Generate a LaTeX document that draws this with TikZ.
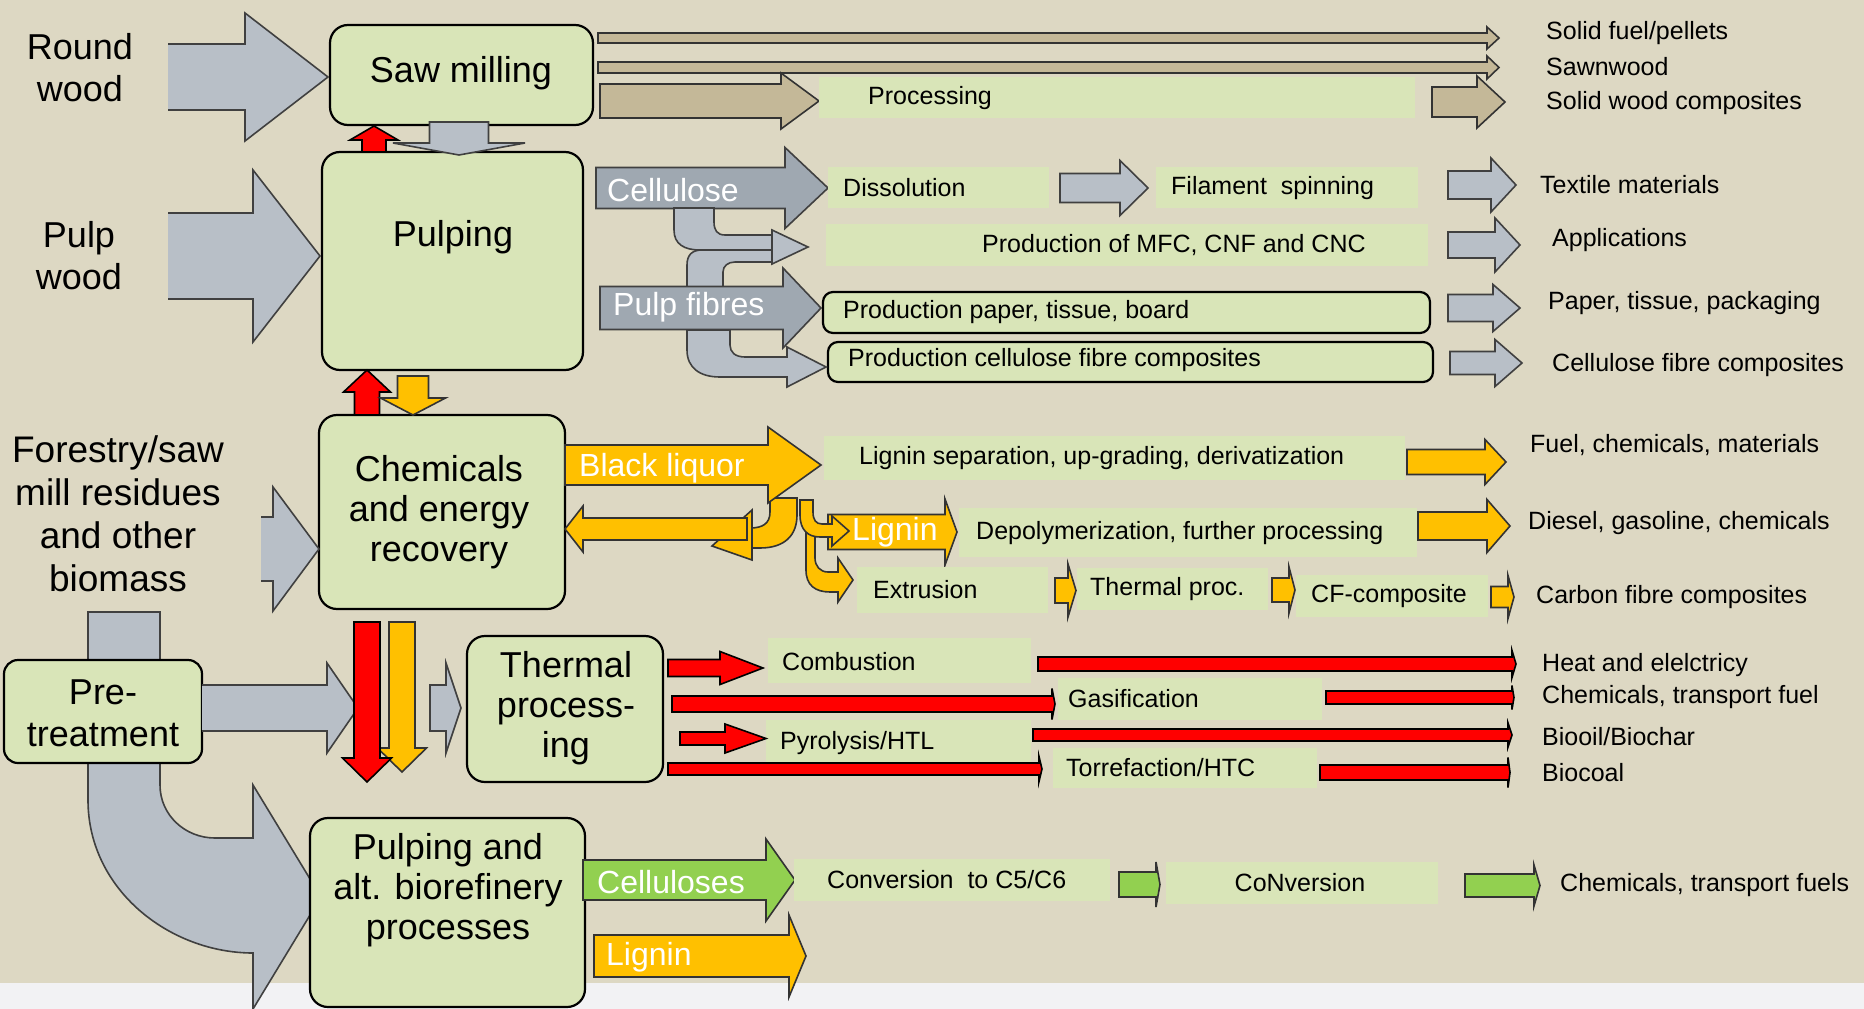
\documentclass[tikz,border=0pt]{standalone}
\usepackage{fontspec}
\setmainfont{Liberation Sans}
\definecolor{bg}{HTML}{DDD8C3}
\definecolor{lg}{HTML}{D9E5B8}
\definecolor{gb}{HTML}{B8BFC7}
\definecolor{gd}{HTML}{9FA8B1}
\definecolor{tanc}{HTML}{C4B898}
\definecolor{yel}{HTML}{FFC000}
\definecolor{grn}{HTML}{92D050}
\definecolor{strip}{HTML}{F2F2F4}
\newcommand{\hblk}[7][]{\path[#1] (#2,{#5-#6}) -- (#3,{#5-#6}) -- (#3,{#5-#7}) -- (#4,#5) -- (#3,{#5+#7}) -- (#3,{#5+#6}) -- (#2,{#5+#6}) -- cycle;}
\newcommand{\hblkopen}[7][]{\fill[#1,draw=none] (#2,{#5-#6}) -- (#3,{#5-#6}) -- (#3,{#5-#7}) -- (#4,#5) -- (#3,{#5+#7}) -- (#3,{#5+#6}) -- (#2,{#5+#6}) -- cycle;
 \draw[#1,fill=none] (#2,{#5-#6}) -- (#3,{#5-#6}) -- (#3,{#5-#7}) -- (#4,#5) -- (#3,{#5+#7}) -- (#3,{#5+#6}) -- (#2,{#5+#6});}
\newcommand{\vblk}[7][]{\path[#1] ({#5-#6},#2) -- ({#5-#6},#3) -- ({#5-#7},#3) -- (#5,#4) -- ({#5+#7},#3) -- ({#5+#6},#3) -- ({#5+#6},#2) -- cycle;}
\begin{document}
\begin{tikzpicture}[x=1pt,y=-1pt,
 box/.style={draw=black, line width=2.2pt, fill=lg, rounded corners=18pt},
 big/.style={font=\fontsize{36}{42}\selectfont, align=center, inner sep=0pt},
 sm/.style={font=\fontsize{25}{30}\selectfont, anchor=west, inner sep=0pt},
 wl/.style={font=\fontsize{32}{36}\selectfont, text=white, anchor=west, inner sep=0pt},
 ga/.style={fill=gb, draw=black!75, line width=1.6pt, line join=miter},
 gda/.style={fill=gd, draw=black!75, line width=1.6pt},
 ya/.style={fill=yel, draw=black!80, line width=1.6pt},
 ra/.style={fill=red, draw=black, line width=1.6pt},
 ta/.style={fill=tanc, draw=black!80, line width=1.6pt},
 gra/.style={fill=grn, draw=black!80, line width=1.6pt}]
\useasboundingbox (0,0) rectangle (1864,1009);
\fill[bg] (0,0) rectangle (1864,983);
\fill[strip] (0,983) rectangle (1864,1009);

% left texts
\node[big] (round) at (80,68) {Round\\wood};
\node[big] (pulpw) at (79,256) {Pulp\\wood};
\node[big, font=\fontsize{37}{43}\selectfont] (forest) at (118,514) {Forestry/saw\\mill residues\\and other\\biomass};

% vertical bar and big curved arrow
\path[ga] (88,612) -- (88,800) .. controls (88,890) and (170,953) .. (253,953) -- (253,1009) -- (321,897) -- (253,785) -- (253,838) -- (215,838) .. controls (185,838) and (160,815) .. (160,785) -- (160,612) -- cycle;

% boxes
\node[box, minimum width=263pt, minimum height=100pt] (saw) at (461.5,75) {};
\node[big] (sawt) at (461,73) {Saw milling};
\node[box, minimum width=261pt, minimum height=218pt] (pulp) at (452.5,261) {};
\node[big] (pulpt) at (453,237) {Pulping};
\node[box, minimum width=246pt, minimum height=194pt] (chem) at (442,512) {};
\node[big, font=\fontsize{36}{40}\selectfont] (chemt) at (439,512) {Chemicals\\and energy\\recovery};
\node[box, rounded corners=14pt, minimum width=198pt, minimum height=103pt] (pre) at (103,711.5) {};
\node[big] (pret) at (103,713) {Pre-\\treatment};
\node[box, minimum width=196pt, minimum height=146pt] (therm) at (565,709) {};
\node[big, font=\fontsize{36}{40}\selectfont] (thermt) at (566,708) {Thermal\\process-\\ing};
\node[box, minimum width=275pt, minimum height=189pt] (alt) at (447.5,912.5) {};
\node[big, font=\fontsize{36}{40}\selectfont] (altt) at (448,890) {Pulping and\\alt. biorefinery\\processes};

% input arrows
\hblkopen[ga]{168}{245}{328}{77}{33}{64}
\hblkopen[ga]{168}{253}{320}{256}{43}{86}
\hblkopen[ga]{261}{273}{319}{549}{32}{62}
\hblkopen[ga]{202}{327}{358}{708}{23}{45}
\hblk[ga]{430}{446}{461}{708}{23}{45}

% vertical connectors
\vblk[ra]{152}{140}{126}{374}{12}{24}
\vblk[ga]{122}{143}{155}{459}{29.5}{66}
\vblk[ra]{415}{392}{370}{367}{12.5}{23.5}
\vblk[ya]{376}{398}{415}{413}{15.5}{32.5}
\vblk[ya]{622}{748}{772}{402}{13}{24.5}
\vblk[ra]{622}{758}{782}{367}{13}{24.5}

% saw milling outputs
\hblk[ta]{598}{1487}{1499}{38}{5}{11}
\hblk[ta]{598}{1487}{1499}{67.5}{5.5}{11.5}
\hblk[ta]{600}{781}{819}{101}{17}{28}
\fill[lg] (819,77) rectangle (1415,118);
\node[sm] (proc) at (868,98) {Processing};
\hblk[ta]{1432}{1477}{1505}{102}{15}{26}
\node[sm] (sfp) at (1546,33) {Solid fuel/pellets};
\node[sm] (sawn) at (1546,67) {Sawnwood};
\node[sm] (swc) at (1546,103) {Solid wood composites};

% cellulose
\hblk[gda]{596}{785}{828}{188}{20.5}{40.5}
\node[wl] (cell) at (607,190) {Cellulose};
\fill[lg] (828,167) rectangle (1049,208);
\node[sm] (diss) at (843,188) {Dissolution};
\hblk[ga]{1060}{1120}{1148}{188}{14.5}{27.5}
\fill[lg] (1156,167) rectangle (1418,208);
\node[sm] (fil) at (1171,188) {Filament\ \ spinning};
\hblk[ga]{1448}{1491}{1516}{185}{14}{27}
\node[sm] (tex) at (1540,185) {Textile materials};

\fill[lg] (826,224) rectangle (1428,266);
\node[sm] (mfc) at (982,245) {Production of MFC, CNF and CNC};
\hblk[ga]{1448}{1495}{1520}{245}{13}{27}
\node[sm] (app) at (1552,240) {Applications};

% curved gray to MFC
\path[ga] (687,290) -- (687,265) .. controls (687,255) and (692,250) .. (702,250) -- (775,250) -- (775,262) -- (735,262) .. controls (728,262) and (723,266) .. (723,272) -- (723,290) -- cycle;
\path[ga] (674,208) -- (674,230) .. controls (674,244) and (684,250) .. (700,250) -- (775,250) -- (775,235) -- (725,235) .. controls (717,235) and (714,230) .. (714,222) -- (714,208) -- cycle;
\path[ga] (772,230) -- (808,247) -- (772,264) -- cycle;

% pulp fibres
\hblk[gda]{600}{783}{821}{308}{21.5}{40}
\node[wl] (pf) at (613,307) {Pulp fibres};
\path[box, rounded corners=10pt] (823,292) rectangle (1430,333);
\node[sm] (ppt) at (843,312) {Production paper, tissue, board};
\hblk[ga]{1448}{1493}{1520}{308}{13.5}{23.5}
\node[sm] (ptp) at (1548,303) {Paper, tissue, packaging};
\path[box, rounded corners=10pt] (828,342) rectangle (1433,382);
\node[sm] (pcf) at (848,360) {Production cellulose fibre composites};
\hblk[ga]{1450}{1495}{1522}{363}{11.5}{23.5}
\node[sm] (cfc) at (1552,365) {Cellulose fibre composites};
\path[ga] (687,330) -- (687,350) .. controls (687,368) and (700,377) .. (720,377) -- (787,377) -- (787,387) -- (826,367) -- (787,347) -- (787,357) -- (745,357) .. controls (735,357) and (730,352) .. (730,345) -- (730,330) -- cycle;

% black liquor area
\path[ya] (770,498) -- (770,512) .. controls (770,524) and (762,528) .. (750,528) -- (745,528) -- (745,548) -- (760,548) .. controls (785,548) and (797,535) .. (797,515) -- (797,498) -- cycle;
\path[ya] (752,510) -- (752,560) -- (712,546) -- cycle;
\hblk[ya]{747}{583}{565}{529}{11}{23}
\hblk[ya]{565}{768}{821}{465}{20}{38}
\node[wl] (bl) at (579,468) {Black liquor};
\fill[lg] (824,436) rectangle (1405,480);
\node[sm] (lsep) at (859,458) {Lignin separation, up-grading, derivatization};
\hblk[ya]{1407}{1485}{1506}{462}{12.5}{22.5}
\node[sm] (fuel) at (1530,445) {Fuel, chemicals, materials};

\hblk[ya]{828}{945}{957}{532}{17.5}{33}
\node[wl] (lig) at (852,532) {Lignin};
\path[ya] (806,528) -- (806,570) .. controls (806,585) and (815,592) .. (830,592) -- (838,592) -- (838,602) -- (853,580) -- (838,558) -- (838,572) -- (828,572) .. controls (820,572) and (815,566) .. (815,558) -- (815,528) -- cycle;
\path[ya] (800,500) -- (800,515) .. controls (800,530) and (808,537) .. (820,537) -- (832,537) -- (832,546) -- (849,531) -- (832,516) -- (832,524) -- (822,524) .. controls (816,524) and (813,520) .. (813,512) -- (813,500) -- cycle;
\fill[lg] (959,508) rectangle (1417,557);
\node[sm] (dep) at (976,533) {Depolymerization, further processing};
\hblk[ya]{1418}{1487}{1510}{526}{14}{26.5}
\node[sm] (die) at (1528,523) {Diesel, gasoline, chemicals};

\fill[lg] (857,567) rectangle (1048,613);
\node[sm] (ext) at (873,590) {Extrusion};
\hblk[ya]{1055}{1068}{1076}{590.5}{12.5}{26.5}
\fill[lg] (1077,568) rectangle (1268,610);
\node[sm] (tp) at (1090,589) {Thermal proc.};
\hblk[ya]{1272}{1289}{1295}{590}{12}{23}
\fill[lg] (1296,575) rectangle (1488,617);
\node[sm] (cfcomp) at (1311,596) {CF-composite};
\hblk[ya]{1491}{1508}{1514}{597}{10.5}{21.5}
\node[sm] (carb) at (1536,597) {Carbon fibre composites};

% thermal outputs
\hblk[ra]{668}{720}{763}{668}{8.5}{16.5}
\fill[lg] (768,638) rectangle (1031,683);
\node[sm] (comb) at (782,662) {Combustion};
\hblk[ra]{1038}{1512}{1516}{664}{7}{13.5}
\node[sm] (heat) at (1542,665) {Heat and elelctricy};
\fill[lg] (1058,678) rectangle (1322,720);
\hblk[ra]{672}{1052}{1055}{704}{8}{15.5}
\node[sm] (gas) at (1068,699) {Gasification};
\hblk[ra]{1326}{1512}{1514}{697.5}{6.5}{12}
\node[sm] (ctf) at (1542,697) {Chemicals, transport fuel};
\fill[lg] (766,720) rectangle (1031,762);
\hblk[ra]{680}{725}{766}{738.5}{6.5}{14.5}
\node[sm] (pyr) at (780,743) {Pyrolysis/HTL};
\hblk[ra]{1033}{1508}{1512}{735}{6}{12}
\node[sm] (bio) at (1542,737) {Biooil/Biochar};
\hblk[ra]{668}{1039}{1042}{769}{6}{12.5}
\fill[lg] (1053,748) rectangle (1317,788);
\node[sm] (tor) at (1066,768) {Torrefaction/HTC};
\hblk[ra]{1320}{1508}{1510}{772.5}{7.5}{15}
\node[sm] (bc) at (1542,773) {Biocoal};

% biorefinery outputs
\hblk[gra]{583}{766}{795}{880}{20}{41}
\node[wl] (cels) at (597,882) {Celluloses};
\fill[lg] (794,859) rectangle (1110,901);
\node[sm] (conv) at (827,880) {Conversion\ \ to C5/C6};
\hblk[gra]{1119}{1156}{1160}{884.5}{12.5}{22.5}
\fill[lg] (1166,862) rectangle (1438,904);
\node[font=\fontsize{25}{30}\selectfont, inner sep=0pt] (conv2) at (1300,883) {CoNversion};
\hblk[gra]{1465}{1534}{1540}{885.5}{11.5}{20.5}
\node[sm] (ctf2) at (1560,885) {Chemicals, transport fuels};
\hblk[ya]{594}{789}{806}{956}{21}{41}
\node[wl] (lig2) at (606,957) {Lignin};
\end{tikzpicture}
\end{document}
